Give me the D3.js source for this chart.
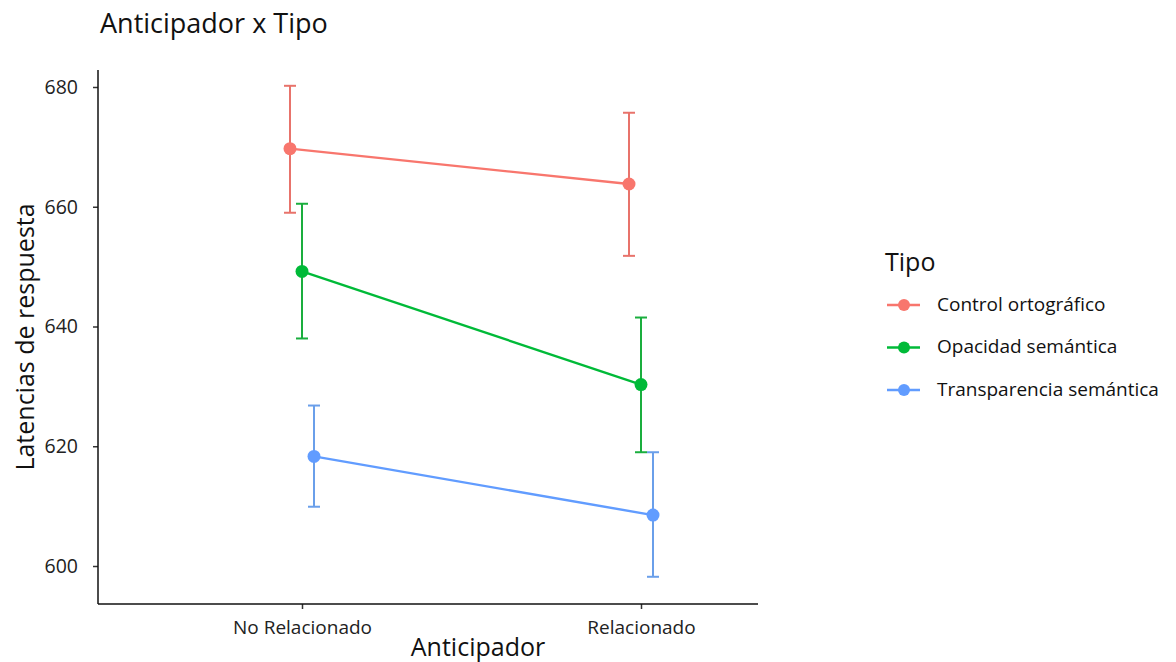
<!DOCTYPE html>
<html>
<head>
<meta charset="utf-8">
<script src="https://cdn.jsdelivr.net/npm/d3@7"></script>
<style>
  body { margin: 0; background: #fff; }
  svg { display: block; }
</style>
</head>
<body>
<div id="chart"></div>
<script>
// data
const categories = ["No Relacionado", "Relacionado"];
const series = ["Control ortográfico", "Opacidad semántica", "Transparencia semántica"];
const means = [
  [669.7, 663.8],
  [649.2, 630.3],
  [618.3, 608.5]
];
const upper = [
  [680.2, 675.7],
  [660.5, 641.5],
  [626.8, 619.0]
];
const lower = [
  [659.0, 651.8],
  [638.0, 619.0],
  [609.9, 598.2]
];
const yTicks = [600, 620, 640, 660, 680];
const colors = ["#F8766D", "#00BA38", "#619CFF"];
const barColors = ["#E8736B", "#1AAE3E", "#6A9FEA"];

const width = 1176;
const height = 662;
const font = "'Open Sans', sans-serif";

const plotLeft = 98, plotRight = 758, plotTop = 70, plotBottom = 604;

const svg = d3.select("#chart")
  .append("svg")
  .attr("width", width)
  .attr("height", height)
  .attr("viewBox", [0, 0, width, height])
  .style("font-family", font);

const y = d3.scaleLinear()
  .domain([600, 680])
  .range([566, 87]);

const x = d3.scalePoint()
  .domain(categories)
  .range([plotLeft + 204, plotRight - 117]);

const dodge = d3.scalePoint()
  .domain(series)
  .range([-12, 12]);

// axes
svg.append("g")
  .attr("transform", `translate(${plotLeft},0)`)
  .call(d3.axisLeft(y).tickValues(yTicks).tickSize(5).tickPadding(15))
  .call(g => g.select(".domain").remove())
  .call(g => g.selectAll(".tick line").attr("stroke", "#333").attr("stroke-width", 1.5))
  .call(g => g.selectAll(".tick text").attr("font-size", 19.5).attr("fill", "#222").attr("font-family", font));

svg.append("line")
  .attr("x1", plotLeft).attr("x2", plotLeft)
  .attr("y1", plotTop).attr("y2", plotBottom)
  .attr("stroke", "#111").attr("stroke-width", 1.5);

svg.append("g")
  .attr("transform", `translate(0,${plotBottom})`)
  .call(d3.axisBottom(x).tickSize(5).tickPadding(12))
  .call(g => g.select(".domain").remove())
  .call(g => g.selectAll(".tick line").attr("stroke", "#333").attr("stroke-width", 1.5))
  .call(g => g.selectAll(".tick text").attr("font-size", 19).attr("fill", "#222").attr("font-family", font));

svg.append("line")
  .attr("x1", plotLeft).attr("x2", plotRight)
  .attr("y1", plotBottom).attr("y2", plotBottom)
  .attr("stroke", "#111").attr("stroke-width", 1.5);

// titles
svg.append("text")
  .attr("x", 100).attr("y", 33)
  .attr("font-size", 27).attr("fill", "#111")
  .text("Anticipador x Tipo");

svg.append("text")
  .attr("transform", `translate(34,${(plotTop + plotBottom) / 2}) rotate(-90)`)
  .attr("text-anchor", "middle")
  .attr("font-size", 25).attr("fill", "#111")
  .text("Latencias de respuesta");

svg.append("text")
  .attr("x", 478).attr("y", 656)
  .attr("text-anchor", "middle")
  .attr("font-size", 25).attr("fill", "#111")
  .text("Anticipador");

// series
const rows = series.map((s, i) => ({
  name: s,
  color: colors[i],
  barColor: barColors[i],
  points: categories.map((c, j) => ({
    cat: c, mean: means[i][j], hi: upper[i][j], lo: lower[i][j]
  }))
}));

const px = (s, c) => x(c) + dodge(s);

const line = d3.line();

const g = svg.append("g");

rows.forEach(r => {
  g.append("path")
    .attr("d", line(r.points.map(p => [px(r.name, p.cat), y(p.mean)])))
    .attr("fill", "none")
    .attr("stroke", r.color)
    .attr("stroke-width", 2.4);

  const eb = g.append("g").selectAll("g")
    .data(r.points)
    .join("g")
      .attr("stroke", r.barColor)
      .attr("stroke-width", 2);

  eb.append("line")
    .attr("x1", p => px(r.name, p.cat)).attr("x2", p => px(r.name, p.cat))
    .attr("y1", p => y(p.hi)).attr("y2", p => y(p.lo));
  eb.append("line")
    .attr("x1", p => px(r.name, p.cat) - 6).attr("x2", p => px(r.name, p.cat) + 6)
    .attr("y1", p => y(p.hi)).attr("y2", p => y(p.hi));
  eb.append("line")
    .attr("x1", p => px(r.name, p.cat) - 6).attr("x2", p => px(r.name, p.cat) + 6)
    .attr("y1", p => y(p.lo)).attr("y2", p => y(p.lo));

  g.append("g").selectAll("circle")
    .data(r.points)
    .join("circle")
      .attr("cx", p => px(r.name, p.cat))
      .attr("cy", p => y(p.mean))
      .attr("r", 6.5)
      .attr("fill", r.color);
});

// legend
const legend = svg.append("g").attr("transform", "translate(885,0)");

legend.append("text")
  .attr("x", 0).attr("y", 271)
  .attr("font-size", 25).attr("fill", "#111")
  .text("Tipo");

const item = legend.selectAll("g.item")
  .data(rows)
  .join("g")
    .attr("class", "item")
    .attr("transform", (d, i) => `translate(0,${305 + i * 42.5})`);

item.append("line")
  .attr("x1", 2).attr("x2", 35)
  .attr("stroke", d => d.color).attr("stroke-width", 2.4);
item.append("circle")
  .attr("cx", 19).attr("r", 6)
  .attr("fill", d => d.color);
item.append("text")
  .attr("x", 52).attr("dy", "0.3em")
  .attr("font-size", 19).attr("fill", "#111")
  .text(d => d.name);
</script>
</body>
</html>
